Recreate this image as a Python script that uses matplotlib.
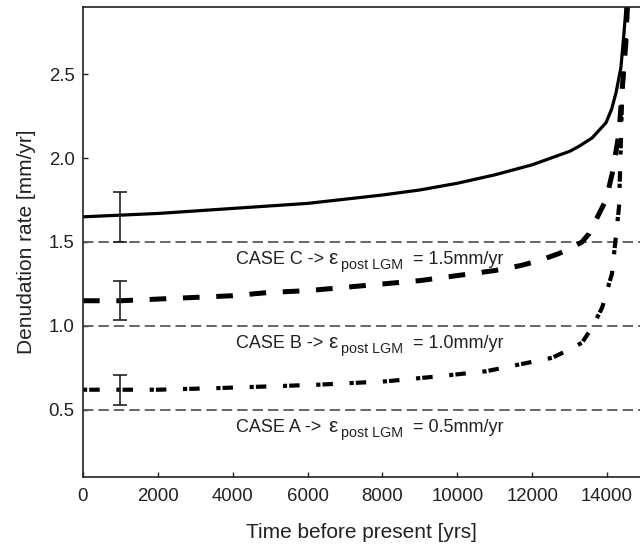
import matplotlib
matplotlib.use("Agg")
import matplotlib.pyplot as plt

plt.rcParams['font.family'] = ['Liberation Sans', 'DejaVu Sans']

# ---- data ----
t_solid = [0, 1000, 2000, 4000, 6000, 8000, 9000, 10000, 11000, 12000, 12500,
           13000, 13250, 13600, 13970, 14120, 14240, 14370, 14450, 14500, 14520]
v_solid = [1.65, 1.66, 1.67, 1.70, 1.73, 1.78, 1.81, 1.85, 1.90, 1.96, 2.00,
           2.04, 2.07, 2.12, 2.21, 2.29, 2.39, 2.54, 2.74, 2.88, 2.95]

t_dash = [0, 1000, 2000, 3000, 4000, 5000, 6000, 7000, 8000, 9000, 10000, 11000,
          11700, 12200, 12700, 13000, 13330, 13520, 13700, 13970, 14140, 14320,
          14400, 14500, 14540, 14560]
v_dash = [1.15, 1.15, 1.16, 1.17, 1.18, 1.20, 1.21, 1.23, 1.25, 1.27, 1.30, 1.33,
          1.36, 1.39, 1.43, 1.46, 1.50, 1.55, 1.63, 1.75, 1.91, 2.15,
          2.40, 2.68, 2.88, 2.95]

t_dd = [0, 1000, 2000, 3650, 5000, 6300, 8100, 9500, 10770, 11650, 12530, 13000,
        13330, 13600, 13870, 14130, 14320, 14400, 14530, 14560]
v_dd = [0.62, 0.62, 0.62, 0.63, 0.64, 0.65, 0.67, 0.70, 0.73, 0.77, 0.81, 0.86,
        0.90, 0.99, 1.11, 1.31, 1.71, 2.34, 2.89, 2.95]

err_t = [1000, 1000, 1000]
err_v = [1.65, 1.15, 0.62]
err_e = [0.15, 0.115, 0.09]

case_levels = [1.5, 1.0, 0.5]
case_names = ['CASE C', 'CASE B', 'CASE A']
case_values = ['1.5mm/yr', '1.0mm/yr', '0.5mm/yr']

xticks = [0, 2000, 4000, 6000, 8000, 10000, 12000, 14000]
yticks = [0.5, 1.0, 1.5, 2.0, 2.5]

# ---- figure ----
fig = plt.figure(figsize=(6.4, 5.49), dpi=100)
ax = fig.add_axes([83/640, 1 - 477/549, 1 - 83/640, (477 - 7)/549])

tc = '#222222'
for lvl, name, val in zip(case_levels, case_names, case_values):
    lw = 1.3
    ax.plot([0, 15000], [lvl, lvl], color='#5a5a5a', lw=lw,
            linestyle=(0, (7.5/lw, 3.6/lw)))
    base = lvl - 0.13
    ax.text(4100, base, name + ' -> ', fontsize=13, color=tc,
            ha='left', va='baseline')
    ax.text(6550, base, 'ε', fontsize=15, color=tc,
            ha='left', va='baseline')
    ax.text(6880, base - 0.03, 'post LGM', fontsize=10.3, color=tc,
            ha='left', va='baseline')
    ax.text(8820, base, '= ' + val, fontsize=13, color=tc,
            ha='left', va='baseline')

ax.plot(t_solid, v_solid, color='black', lw=2.3, solid_capstyle='butt')
lw = 3.6
ax.plot(t_dash, v_dash, color='black', lw=lw, linestyle=(0, (12/lw, 12/lw)))
lw = 3.0
ax.plot(t_dd, v_dd, color='black', lw=lw,
        linestyle=(0, (3/lw, 1.5/lw, 7.5/lw, 12/lw)))

ax.errorbar(err_t, err_v, yerr=err_e, fmt='none', ecolor=tc,
            elinewidth=1.2, capsize=5, capthick=1.2)

ax.set_xlim(0, 14880)
ax.set_ylim(0.1, 2.9)
ax.set_xticks(xticks)
ax.set_yticks(yticks)
ax.set_xticklabels([str(v) for v in xticks])
ax.set_yticklabels(['%.1f' % v for v in yticks])
ax.tick_params(direction='in', length=3.6, width=1.0, labelsize=13.4,
               colors=tc)
ax.tick_params(axis='x', pad=8)
ax.tick_params(axis='y', pad=6)
ax.spines['right'].set_visible(False)
for s in ['left', 'top', 'bottom']:
    ax.spines[s].set_linewidth(1.2)
    ax.spines[s].set_color(tc)

ax.set_xlabel('Time before present [yrs]', fontsize=15, color=tc,
              labelpad=13)
ax.set_ylabel('Denudation rate [mm/yr]', fontsize=15, color=tc,
              labelpad=9)

fig.savefig('out.png', dpi=100)
